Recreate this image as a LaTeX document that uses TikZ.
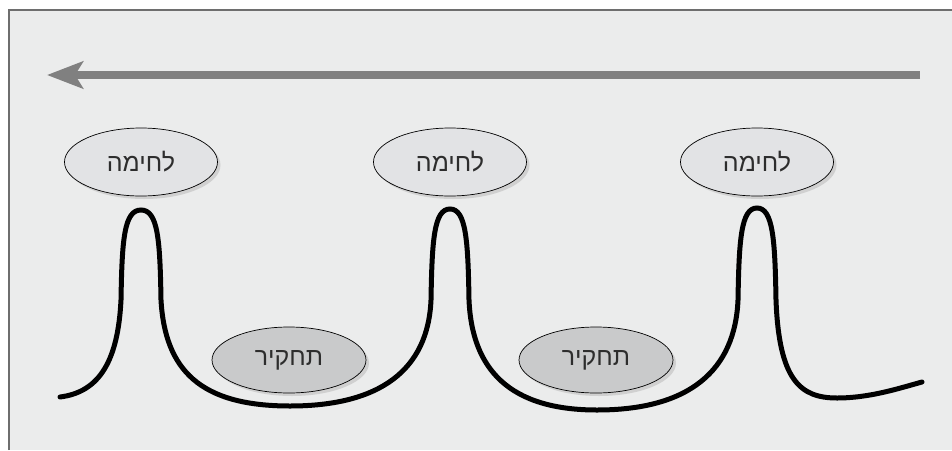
\documentclass[tikz,border=0pt]{standalone}
\usepackage{fontspec}
\newfontfamily\hebfont[Script=Hebrew]{Liberation Sans}
\TeXXeTstate=1
\usetikzlibrary{arrows.meta,shadows,shapes.geometric}
\definecolor{bggray}{RGB}{235,236,236}
\definecolor{framegray}{RGB}{110,110,110}
\definecolor{arrowgray}{RGB}{128,128,128}
\definecolor{topfill}{RGB}{226,227,229}
\definecolor{lowfill}{RGB}{201,202,203}
\definecolor{textgray}{RGB}{45,45,45}
\tikzset{
  fight/.style={ellipse, draw=black, line width=0.7pt, fill=topfill,
    minimum width=153pt, minimum height=68pt, inner sep=0pt,
    drop shadow={shadow xshift=3pt, shadow yshift=-3pt, opacity=0.25},
    text=textgray, font=\hebfont\fontsize{25}{25}\selectfont},
  probe/.style={fight, fill=lowfill, minimum width=154pt, minimum height=66pt},
  wave/.style={line width=5pt, black, line cap=round}
}
\begin{document}
\begin{tikzpicture}[x=1pt, y=-1pt]
    \useasboundingbox (0,0) rectangle (952,450);
    \fill[white] (0,0) rectangle (952,450);
    \fill[bggray] (9,10) rectangle (952,450);
    \draw[framegray, line width=2pt] (9,450)--(9,10)--(952,10);
    \coordinate (start) at (920,75);
    \coordinate (end) at (47,75);
    \draw[arrowgray, line width=8pt, -{Stealth[length=36pt, width=27pt, inset=8pt]}] (start)--(end);
    \draw[wave] (60,397) .. controls (100,392) and (118,360) .. (121,300)
      .. controls (122,240) and (124,210) .. (141,210)
      .. controls (158,210) and (160,240) .. (161,300)
      .. controls (165,370) and (200,406) .. (290,406)
      .. controls (380,406) and (428,370) .. (431,300)
      .. controls (432,240) and (434,209) .. (450,209)
      .. controls (466,209) and (468,240) .. (469,300)
      .. controls (472,370) and (510,410) .. (597,410)
      .. controls (690,410) and (735,370) .. (738,300)
      .. controls (739,240) and (741,208) .. (757,208)
      .. controls (773,208) and (775,240) .. (776,300)
      .. controls (779,380) and (800,398) .. (837,398)
      .. controls (870,398) and (900,388) .. (922,382);
    \node[fight] (fight1) at (141,162) {\beginR לחימה\endR};
    \node[fight] (fight2) at (450,162) {\beginR לחימה\endR};
    \node[fight] (fight3) at (757,162) {\beginR לחימה\endR};
    \node[probe] (probe1) at (289,360) {\beginR תחקיר\endR};
    \node[probe] (probe2) at (596,360) {\beginR תחקיר\endR};
\end{tikzpicture}
\end{document}
